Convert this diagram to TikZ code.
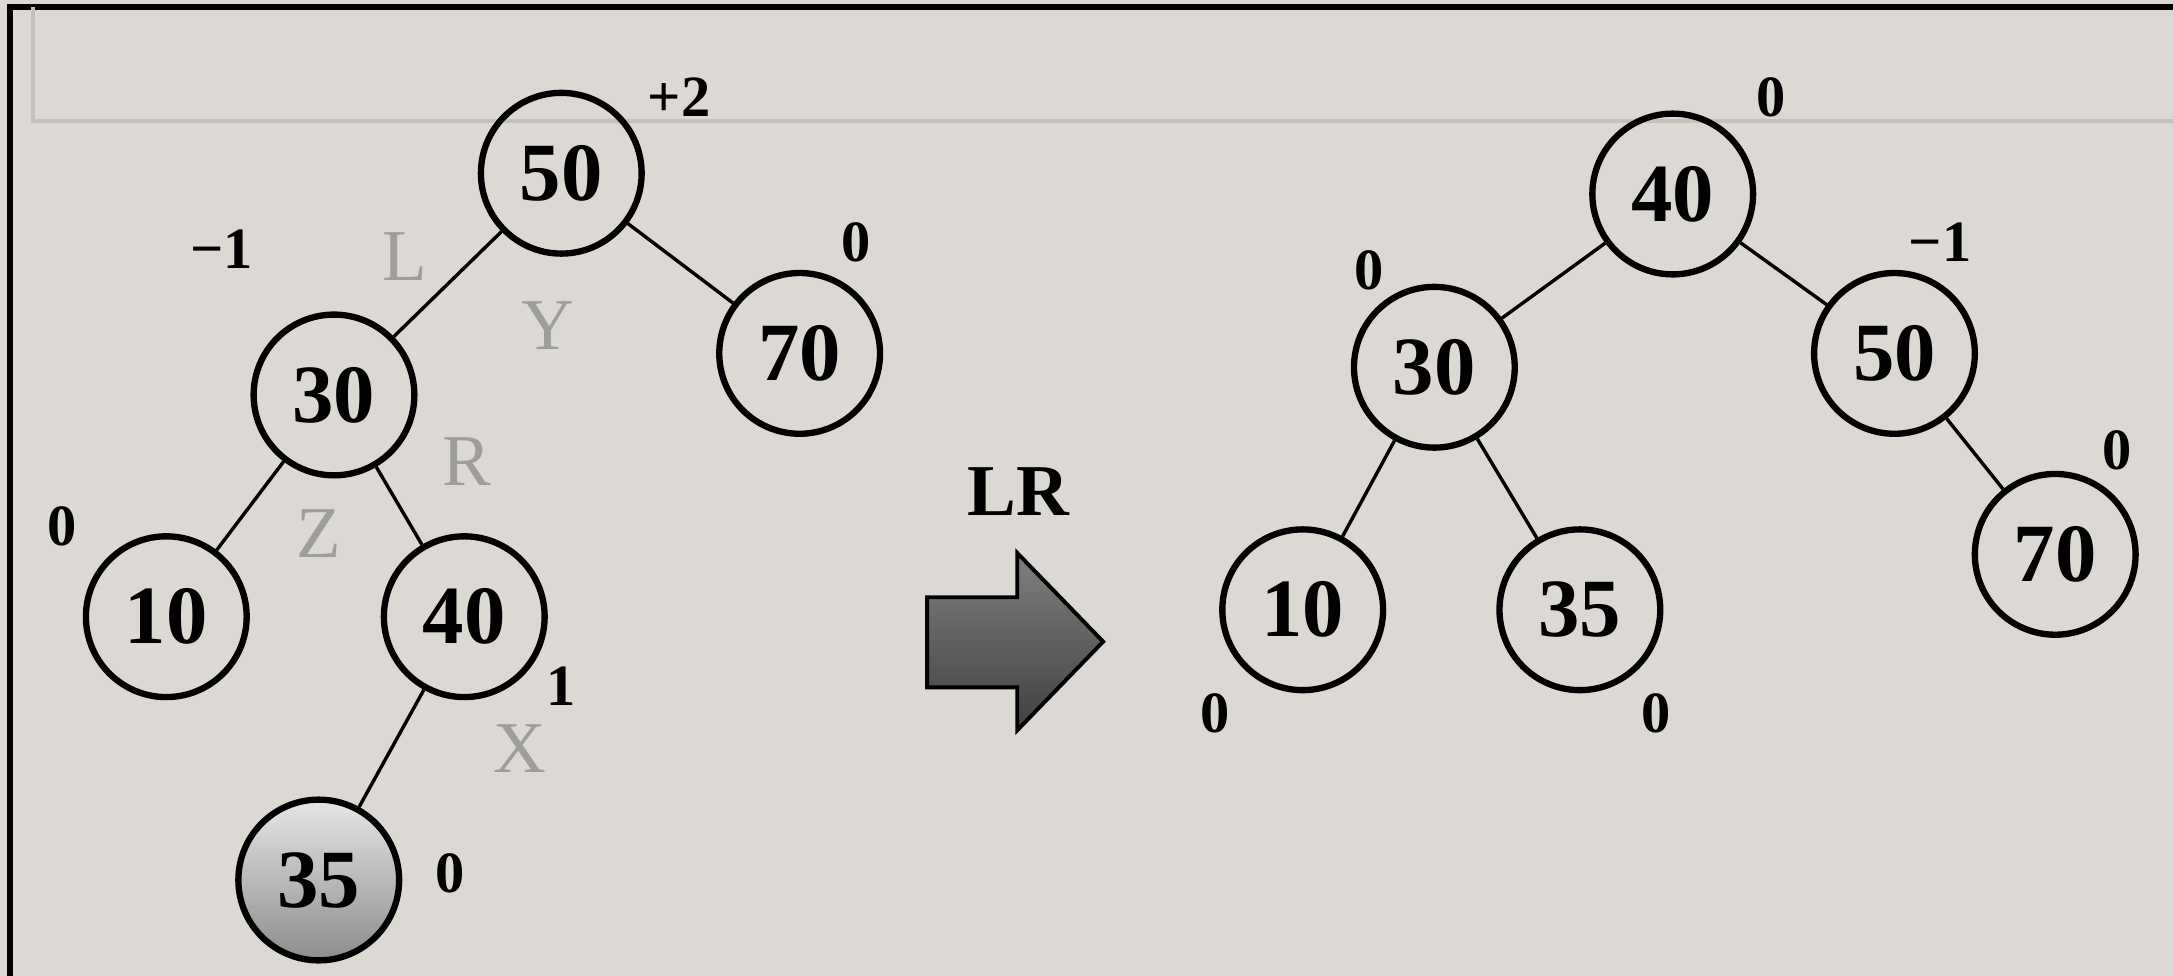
\documentclass[tikz,border=0pt]{standalone}
\usepackage{fontspec}
\setmainfont{Liberation Serif}
\definecolor{paper}{RGB}{220,217,212}
\definecolor{faint}{RGB}{196,193,188}

\begin{document}
\begin{tikzpicture}[
		key/.style={circle, draw=black, line width=1.3pt, minimum size=1.16cm, inner sep=0pt, font=\fontsize{17}{20}\selectfont\bfseries},
		newkey/.style={key, top color=black!10, bottom color=black!45},
		bal/.style={inner sep=0pt, font=\fontsize{12}{14}\selectfont\bfseries},
		tag/.style={inner sep=0pt, text=black!38, font=\fontsize{15}{18}\selectfont},
		link/.style={line width=0.7pt}
	]
			%%%%% START %%%%%
			
			\useasboundingbox[fill=paper] (0, 0) rectangle (15.68, 7.04);
			\draw[line width=1.2pt] (0.07, 0) -- (0.07, 6.99) -- (15.68, 6.99);
			\draw[faint, line width=0.8pt] (0.24, 6.99) -- (0.24, 6.17) -- (15.68, 6.17);
			
			% before rotation
			\node[key] (l50) at (4.05, 5.79) {50};
			\node[key] (l70) at (5.77, 4.49) {70};
			\node[key] (l30) at (2.41, 4.19) {30};
			\node[key] (l10) at (1.20, 2.59) {10};
			\node[key] (l40) at (3.35, 2.59) {40};
			\node[newkey] (l35) at (2.30, 0.69) {35};
			
			\draw[link] (l50) -- (l30);
			\draw[link] (l50) -- (l70);
			\draw[link] (l30) -- (l10);
			\draw[link] (l30) -- (l40);
			\draw[link] (l40) -- (l35);
			
			\node[bal] (bl50) at (4.90, 6.34) {+2};
			\node[bal] (bl70) at (6.18, 5.29) {0};
			\node[bal] (bl30) at (1.60, 5.24) {−1};
			\node[bal] (bl10) at (0.45, 3.24) {0};
			\node[bal] (bl40) at (4.05, 2.09) {1};
			\node[bal] (bl35) at (3.25, 0.74) {0};
			
			\node[tag] (tL) at (2.92, 5.19) {L};
			\node[tag] (tY) at (3.95, 4.69) {Y};
			\node[tag] (tR) at (3.37, 3.71) {R};
			\node[tag] (tZ) at (2.30, 3.19) {Z};
			\node[tag] (tX) at (3.75, 1.64) {X};
			
			% rotation arrow
			\node[font=\fontsize{15}{18}\selectfont\bfseries] (lr) at (7.35, 3.49) {LR};
			\draw[line width=0.8pt, top color=black!50, bottom color=black!75]
				(6.69, 2.73) -- (7.34, 2.73) -- (7.34, 3.05) -- (7.96, 2.41)
				-- (7.34, 1.77) -- (7.34, 2.08) -- (6.69, 2.08) -- cycle;
			
			% after rotation
			\node[key] (r40) at (12.07, 5.64) {40};
			\node[key] (r30) at (10.35, 4.39) {30};
			\node[key] (r50) at (13.67, 4.49) {50};
			\node[key] (r10) at (9.40, 2.64) {10};
			\node[key] (r35) at (11.40, 2.64) {35};
			\node[key] (r70) at (14.83, 3.04) {70};
			
			\draw[link] (r40) -- (r30);
			\draw[link] (r40) -- (r50);
			\draw[link] (r30) -- (r10);
			\draw[link] (r30) -- (r35);
			\draw[link] (r50) -- (r70);
			
			\node[bal] (br40) at (12.78, 6.34) {0};
			\node[bal] (br30) at (9.88, 5.09) {0};
			\node[bal] (br50) at (14.00, 5.29) {−1};
			\node[bal] (br70) at (15.28, 3.79) {0};
			\node[bal] (br10) at (8.77, 1.89) {0};
			\node[bal] (br35) at (11.95, 1.89) {0};
			
			%%%%% END %%%%%
		\end{tikzpicture}
\end{document}
